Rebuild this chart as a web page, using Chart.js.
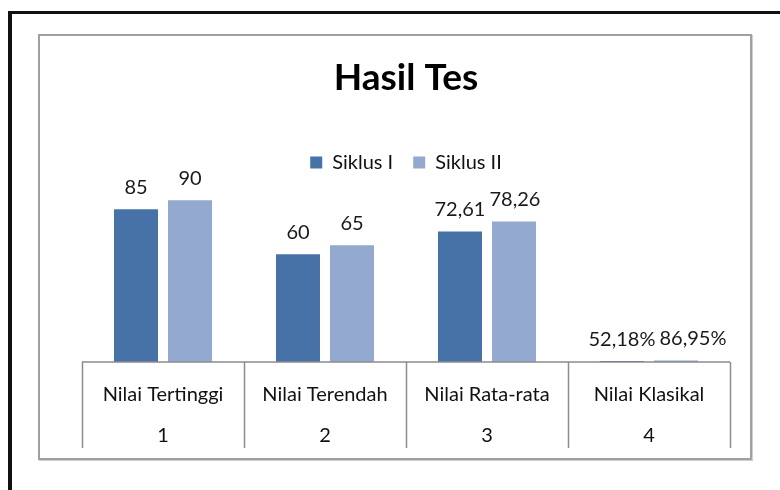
<!DOCTYPE html>
<html lang="id">
<head>
    <meta charset="UTF-8">
    <title>Hasil Tes</title>
    <style>
        body {
            margin: 0;
            width: 780px;
            height: 490px;
            overflow: hidden;
            background: #fff;
            position: relative;
            font-family: Lato, 'Open Sans', sans-serif;
        }

        /* outer black frame (only top and left edges visible) */
        .outer {
            position: absolute;
            left: 8px;
            top: 11px;
            width: 800px;
            height: 500px;
            border-top: 3px solid #111;
            border-left: 4px solid #111;
        }

        /* chart frame */
        .frame {
            position: absolute;
            left: 38px;
            top: 34px;
            width: 710px;
            height: 422px;
            border: 2px solid #a0a0a0;
            box-shadow: 1px 1px 0 #cfcfcf;
        }
    </style>
</head>
<body>
    <div class="outer"></div>
    <div class="frame">
        <canvas id="chart" width="710" height="422"></canvas>
    </div>

    <script src="https://cdn.jsdelivr.net/npm/chart.js"></script>
    <script>
        // data
        const categories = ['Nilai Tertinggi', 'Nilai Terendah', 'Nilai Rata-rata', 'Nilai Klasikal'];
        const categoryNumbers = ['1', '2', '3', '4'];
        const siklus1 = [85, 60, 72.61, 0.5218];
        const siklus2 = [90, 65, 78.26, 0.8695];
        const siklus1Labels = ['85', '60', '72,61', '52,18%'];
        const siklus2Labels = ['90', '65', '78,26', '86,95%'];

        const FONT = 'Lato';

        // value labels above each bar, pushed apart when they would overlap
        const valueLabels = {
            id: 'valueLabels',
            afterDatasetsDraw(chart) {
                const ctx = chart.ctx;
                const texts = [siklus1Labels, siklus2Labels];
                ctx.save();
                ctx.font = '20px ' + FONT;
                ctx.fillStyle = '#1a1a1a';
                ctx.textAlign = 'center';
                ctx.textBaseline = 'middle';
                const bars0 = chart.getDatasetMeta(0).data;
                const bars1 = chart.getDatasetMeta(1).data;
                bars0.forEach((b0, i) => {
                    const b1 = bars1[i];
                    const w0 = ctx.measureText(texts[0][i]).width;
                    const w1 = ctx.measureText(texts[1][i]).width;
                    let x1 = b1.x;
                    const right0 = b0.x + w0 / 2;
                    if (x1 - w1 / 2 < right0 + 4) x1 = right0 + 4 + w1 / 2;
                    ctx.fillText(texts[0][i], b0.x, b0.y - 22);
                    ctx.fillText(texts[1][i], x1, b1.y - 22);
                });
                ctx.restore();
            }
        };

        // table-like category axis lines
        const axisTable = {
            id: 'axisTable',
            afterDraw(chart) {
                const x = chart.scales.x;
                const ctx = chart.ctx;
                const step = (x.right - x.left) / categories.length;
                ctx.save();
                ctx.strokeStyle = '#8c8c8c';
                ctx.lineWidth = 1.5;
                ctx.beginPath();
                ctx.moveTo(x.left, x.top);
                ctx.lineTo(x.right, x.top);
                for (let i = 0; i <= categories.length; i++) {
                    const px = Math.round(x.left + step * i) + 0.5;
                    ctx.moveTo(px, x.top);
                    ctx.lineTo(px, x.bottom);
                }
                ctx.stroke();
                ctx.restore();
            }
        };

        new Chart(document.getElementById('chart'), {
            type: 'bar',
            data: {
                labels: categories.map((c, i) => [c, categoryNumbers[i]]),
                datasets: [
                    {
                        label: 'Siklus I',
                        data: siklus1,
                        backgroundColor: '#4672a8',
                        categoryPercentage: 0.667,
                        barPercentage: 0.815
                    },
                    {
                        label: 'Siklus II',
                        data: siklus2,
                        backgroundColor: '#93a9d0',
                        categoryPercentage: 0.667,
                        barPercentage: 0.815
                    }
                ]
            },
            options: {
                responsive: false,
                animation: false,
                layout: {
                    padding: { top: 0, left: 42, right: 20, bottom: 10 }
                },
                plugins: {
                    title: {
                        display: true,
                        text: 'Hasil Tes',
                        color: '#000',
                        font: { family: FONT, size: 37, weight: 'bold' },
                        padding: { top: 20, bottom: 32 }
                    },
                    legend: {
                        display: true,
                        labels: {
                            color: '#111',
                            font: { family: FONT, size: 20 },
                            boxWidth: 12,
                            boxHeight: 12,
                            padding: 20
                        }
                    },
                    tooltip: { enabled: false }
                },
                scales: {
                    y: {
                        display: false,
                        min: 0,
                        max: 100
                    },
                    x: {
                        grid: { display: false },
                        border: { display: false },
                        ticks: {
                            color: '#111',
                            font: { family: FONT, size: 20, lineHeight: 2.05 },
                            padding: 4
                        },
                        afterFit(scale) {
                            scale.height = 86;
                        }
                    }
                }
            },
            plugins: [valueLabels, axisTable]
        });
    </script>
</body>
</html>
